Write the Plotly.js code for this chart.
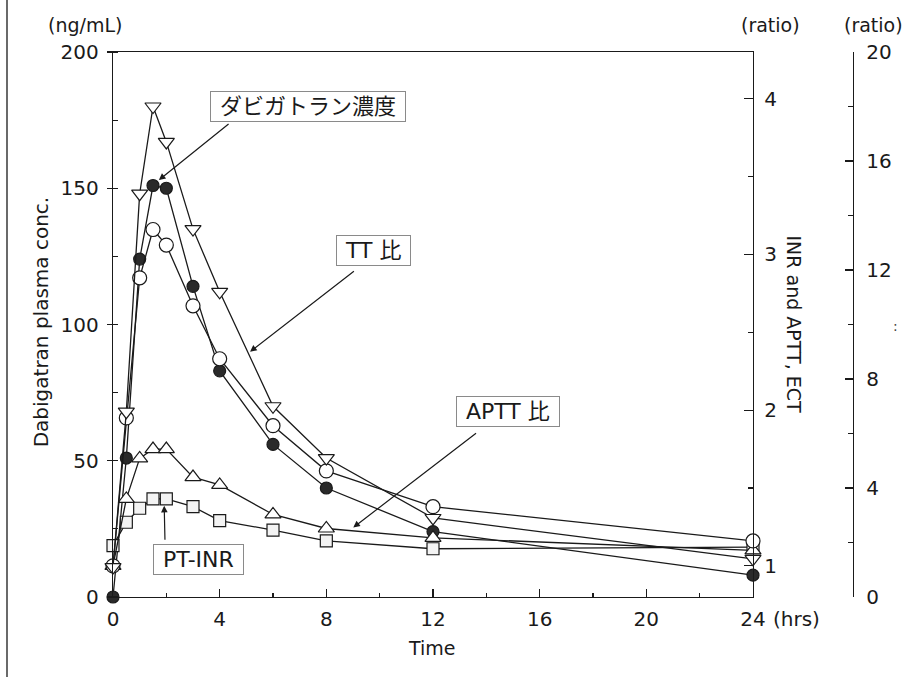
<!DOCTYPE html>
<html>
<head>
<meta charset="utf-8">
<script src="https://cdn.plot.ly/plotly-3.0.1.min.js"></script>
<style>html,body{margin:0;padding:0;background:#fff;}#chart{width:905px;height:677px;}</style>
</head>
<body>
<div id="chart"></div>
<script>
// Time (hrs)
var time = [0, 0.5, 1, 1.5, 2, 3, 4, 6, 8, 12, 24];
// Dabigatran plasma concentration (ng/mL) - left axis
var dabigatran = [0, 51, 124, 151, 150, 114, 83, 56, 40, 24, 8];
// ECT ratio - middle axis
var ect = [1.0, 1.95, 2.85, 3.16, 3.06, 2.67, 2.33, 1.90, 1.61, 1.38, 1.16];
// TT ratio - far right axis
var ttRatio = [1.1, 6.8, 14.8, 18.0, 16.7, 13.5, 11.2, 7.0, 5.1, 2.9, 1.4];
// APTT ratio - middle axis
var apttRatio = [1.0, 1.43, 1.69, 1.75, 1.75, 1.57, 1.52, 1.33, 1.24, 1.18, 1.10];
// PT-INR - middle axis
var ptInr = [1.13, 1.28, 1.37, 1.43, 1.43, 1.38, 1.29, 1.23, 1.16, 1.11, 1.12];

var xTicks = [0, 4, 8, 12, 16, 20, 24];
var xTickText = ['0', '4', '8', '12', '16', '20', '24'];

var ink = '#1a1a1a';
var FONT = 'DejaVu Sans, Liberation Sans, sans-serif';
var JFONT = 'DejaVu Sans, Noto Sans CJK JP, sans-serif';

function series(y, axis, symbol, size, fill) {
  return {
    x: time, y: y, yaxis: axis, type: 'scatter', mode: 'lines+markers',
    cliponaxis: false,
    line: {color: ink, width: 1.3},
    marker: {symbol: symbol, size: size, color: fill, line: {color: ink, width: 1.2}},
    hoverinfo: 'skip', showlegend: false
  };
}

var traces = [
  series(ptInr, 'y2', 'square', 12, '#f3f3f3'),
  series(apttRatio, 'y2', 'triangle-up', 14, '#ffffff'),
  series(ect, 'y2', 'circle', 14, '#ffffff'),
  series(ttRatio, 'y3', 'triangle-down', 14, '#ffffff'),
  series(dabigatran, 'y', 'circle', 12, '#2a2a2a')
];

var tickFont = {family: FONT, size: 20, color: ink};

// plot area in pixels: x 113..753 (middle axis), far right axis at 853
var PX0 = 113, PW = 740;
function px(v) { return (v - PX0) / PW; }

function arrow(xh, yh, xt, yt) {
  return {x: xh, y: yh, ax: xt, ay: yt, xref: 'x', yref: 'y', axref: 'x', ayref: 'y',
    text: '', showarrow: true, arrowhead: 2, arrowsize: 1.1, arrowwidth: 1.2, arrowcolor: ink, standoff: 0};
}
function box(txt, x, y) {
  return {x: x, y: y, xref: 'x', yref: 'y', xanchor: 'center', yanchor: 'middle',
    text: '\u00a0' + txt + '\u00a0', showarrow: false,
    font: {family: JFONT, size: 22, color: ink}, bordercolor: '#8a8a8a', borderwidth: 1, borderpad: 2,
    bgcolor: 'rgba(255,255,255,0)'};
}
function label(txt, x, y, opts) {
  var a = {xref: 'paper', yref: 'paper', x: x, y: y, xanchor: 'center', yanchor: 'middle',
    text: txt, showarrow: false, font: {family: FONT, size: 19, color: ink}};
  for (var k in (opts || {})) a[k] = opts[k];
  return a;
}

var layout = {
  width: 905, height: 677,
  margin: {l: 113, r: 52, t: 52, b: 80},
  paper_bgcolor: '#fff', plot_bgcolor: 'rgba(0,0,0,0)',
  font: {family: FONT, color: ink},
  xaxis: {
    domain: [0, 640 / 740], range: [0, 24], tickmode: 'array', tickvals: xTicks, ticktext: xTickText,
    ticks: 'inside', ticklen: 8, tickwidth: 1.2, tickcolor: ink,
    minor: {tickmode: 'linear', tick0: 0, dtick: 2, ticks: 'inside', ticklen: 4, tickwidth: 1.2, tickcolor: ink},
    showline: true, mirror: true, linecolor: ink, linewidth: 1.3, showgrid: false, zeroline: false,
    tickfont: tickFont, ticklabelstandoff: 4
  },
  yaxis: {
    range: [0, 200], tickmode: 'linear', tick0: 0, dtick: 50,
    ticks: 'outside', ticklen: 5, tickwidth: 1.2, tickcolor: ink,
    minor: {tickmode: 'linear', tick0: 0, dtick: 25, ticks: 'inside', ticklen: 5, tickwidth: 1.2, tickcolor: ink},
    showline: true, mirror: true, linecolor: ink, linewidth: 1.3, showgrid: false, zeroline: false,
    tickfont: tickFont, ticklabelstandoff: 4
  },
  yaxis2: {
    overlaying: 'y', side: 'right', anchor: 'x', range: [0.8, 4.3], tickmode: 'linear', tick0: 0, dtick: 1,
    ticks: 'inside', ticklen: 9, tickwidth: 1.2, tickcolor: ink,
    minor: {tickmode: 'linear', tick0: 0, dtick: 0.5, ticks: 'inside', ticklen: 5, tickwidth: 1.2, tickcolor: ink},
    showline: true, linecolor: ink, linewidth: 1.3, showgrid: false, zeroline: false,
    tickfont: tickFont, ticklabelstandoff: 6
  },
  yaxis3: {
    overlaying: 'y', side: 'right', anchor: 'free', position: 1, range: [0, 20], tickmode: 'linear', tick0: 0, dtick: 4,
    ticks: 'inside', ticklen: 8, tickwidth: 1.2, tickcolor: ink,
    minor: {tickmode: 'linear', tick0: 0, dtick: 2, ticks: 'inside', ticklen: 5, tickwidth: 1.2, tickcolor: ink},
    showline: true, linecolor: ink, linewidth: 1.3, showgrid: false, zeroline: false,
    tickfont: tickFont, ticklabelstandoff: 8
  },
  shapes: [
    {type: 'line', xref: 'paper', yref: 'paper', x0: px(7), x1: px(7), y0: -0.15, y1: 1.1, line: {color: ink, width: 1.3}}
  ],
  annotations: [
    label('(ng/mL)', px(85), 1.0495),
    label('(ratio)', px(770), 1.0495),
    label('(ratio)', px(905), 1.0495, {xanchor: 'right'}),
    label('Dabigatran plasma conc.', px(41), 0.504, {textangle: -90, font: {family: FONT, size: 20, color: ink}}),
    label('INR and APTT, ECT', px(794), 0.5, {textangle: 90}),
    label('Time', px(432), -0.0936),
    label('(hrs)', px(771), -0.0404, {xanchor: 'left', font: {family: FONT, size: 20, color: ink}}),
    label(':', px(895), 0.497, {font: {family: FONT, size: 14, color: '#444'}}),
    box('ダビガトラン濃度', 7.32, 180),
    box('TT 比', 9.76, 127),
    box('APTT 比', 14.83, 68),
    box('PT-INR', 3.19, 13.6),
    arrow(1.72, 153, 4.39, 174),
    arrow(5.14, 90, 9.09, 120),
    arrow(9.01, 25.5, 13.67, 60.5),
    arrow(1.92, 33.5, 1.95, 20.5)
  ]
};

Plotly.newPlot('chart', traces, layout, {staticPlot: true, displayModeBar: false});
</script>
</body>
</html>
